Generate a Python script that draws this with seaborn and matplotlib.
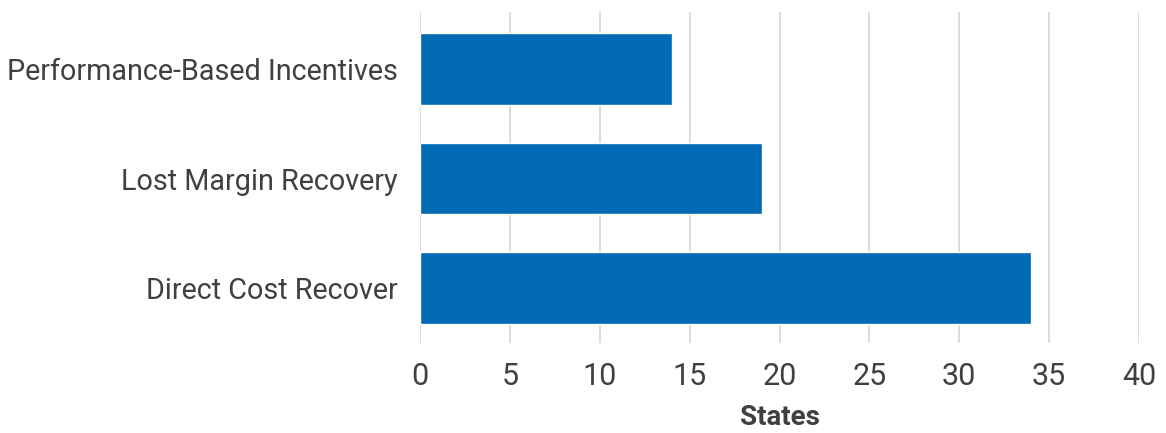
import matplotlib
matplotlib.use("Agg")
import matplotlib.pyplot as plt
import seaborn as sns
import pandas as pd

# datos
categorias = ["Performance-Based Incentives", "Lost Margin Recovery", "Direct Cost Recover"]
estados = [14, 19, 34]

df = pd.DataFrame({"categoria": categorias, "estados": estados})

sns.set_style("white")
plt.rcParams["font.family"] = ["Roboto", "DejaVu Sans"]

fig = plt.figure(figsize=(11.66, 4.33), dpi=100)
ax = fig.add_axes([0.3602, 0.2079, 0.6167, 0.7644])

sns.barplot(data=df, x="estados", y="categoria", color="#006AB6",
            width=0.655, saturation=1, ax=ax, zorder=3)

ax.set_xlim(0, 40)
ax.set_ylim(2.5, -0.52)
ax.set_xticks(range(0, 41, 5))
ax.grid(axis="x", color="#d9d9d9", linewidth=1.3, zorder=0)
ax.grid(axis="y", visible=False)
for s in ax.spines.values():
    s.set_visible(False)

ax.tick_params(axis="x", length=0, pad=14, labelsize=22, labelcolor="#404040")
ax.tick_params(axis="y", length=0, pad=16, labelsize=20.7, labelcolor="#404040")
ax.set_ylabel("")
ax.set_xlabel("States", fontsize=20, fontweight="bold", color="#404040", labelpad=9)

fig.savefig("out.png", dpi=100)
